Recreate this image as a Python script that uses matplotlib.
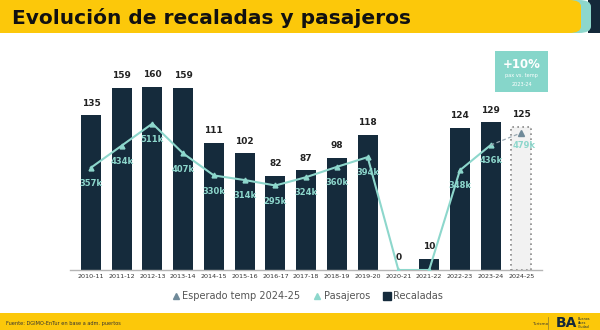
import matplotlib
matplotlib.use("Agg")
import matplotlib.pyplot as plt
from matplotlib.patches import Rectangle, FancyBboxPatch
from matplotlib.lines import Line2D

# ---------------- data ----------------
temporadas = ["2010-11", "2011-12", "2012-13", "2013-14", "2014-15", "2015-16",
              "2016-17", "2017-18", "2018-19", "2019-20", "2020-21", "2021-22",
              "2022-23", "2023-24", "2024-25"]
recaladas = [135, 159, 160, 159, 111, 102, 82, 87, 98, 118, 0, 10, 124, 129, 125]
pasajeros_k = [357, 434, 511, 407, 330, 314, 295, 324, 360, 394, 0, 0, 348, 436]
esperado_k = [436, 479]          # 2023-24 -> 2024-25 expected
esperado_idx = [13, 14]
box_title = "+10%"
box_sub = ["pax vs. temp", "2023-24"]
title = "Evolución de recaladas y pasajeros"
fuente = "Fuente: DGIMO-EnTur en base a adm. puertos"

NAVY = "#152b3c"
TEAL = "#8dd7cc"
GRAYM = "#6f8a99"
YELLOW = "#fcc80a"

W, H = 600, 330
fig = plt.figure(figsize=(W / 100, H / 100), dpi=100)
fig.patch.set_facecolor("white")

def fx(x):
    return x / W

def fy(y):
    return 1 - y / H

# ---------------- header ----------------
fig.add_artist(Rectangle((fx(588), fy(33)), fx(12), 33 / H, transform=fig.transFigure,
                         facecolor="#14293a", edgecolor="none", zorder=1))
fig.add_artist(FancyBboxPatch((fx(560), fy(33)), fx(31), 33 / H,
                              boxstyle="round,pad=0,rounding_size=0.02",
                              transform=fig.transFigure, facecolor=TEAL,
                              edgecolor="none", zorder=2))
fig.add_artist(FancyBboxPatch((fx(-20), fy(33)), fx(601), 33 / H,
                              boxstyle="round,pad=0,rounding_size=0.02",
                              transform=fig.transFigure, facecolor=YELLOW,
                              edgecolor="none", zorder=3))
fig.text(fx(12), fy(18), title, fontsize=14.5, fontweight="heavy",
         family="DejaVu Sans", color="#111111", va="center", ha="left", zorder=4)

# ---------------- footer ----------------
fig.add_artist(Rectangle((0, 0), 1, 17 / H, transform=fig.transFigure,
                         facecolor=YELLOW, edgecolor="none", zorder=1))
fig.text(fx(6), fy(324), fuente, fontsize=3.6, color="#333333", va="center", ha="left")
fig.text(fx(532), fy(324), "Turismo", fontsize=3, color="#333333", va="center", ha="left")
fig.add_artist(Line2D([fx(548), fx(548)], [fy(317), fy(329)], transform=fig.transFigure,
                      color="#8a7a30", lw=0.5))
fig.text(fx(556), fy(323), "BA", fontsize=10, fontweight="heavy", color="#14293a",
         va="center", ha="left")
fig.text(fx(578), fy(323), "Buenos\nAires\nCiudad", fontsize=2.4, color="#14293a",
         va="center", ha="left", linespacing=0.9)

# ---------------- chart ----------------
base_y = 270
top_y = 40
left_x, right_x = 70, 542
ax = fig.add_axes([fx(left_x), fy(base_y), fx(right_x - left_x), (base_y - top_y) / H])
px_per_unit = 1.145
px_per_k = 0.2865
ax.set_ylim(0, (base_y - top_y) / px_per_unit)
ax.set_xlim(-0.68, len(temporadas) - 1 + 0.67)

x = list(range(len(temporadas)))
n_real = len(temporadas) - 1
ax.bar(x[:n_real], recaladas[:n_real], width=0.65, color=NAVY, zorder=2)
ax.bar(x[n_real], recaladas[n_real], width=0.65, facecolor="#f2f2f2",
       edgecolor="#8a8a8a", linestyle=(0, (1, 2)), linewidth=1.2, zorder=2)

for i, v in enumerate(recaladas):
    ax.annotate(str(v), (i, v), xytext=(0, 5.5), textcoords="offset points",
                ha="center", va="bottom", fontsize=6.5, fontweight="bold",
                color="#222222")

for s in ["top", "left", "right"]:
    ax.spines[s].set_visible(False)
ax.spines["bottom"].set_color("#b5b5b5")
ax.spines["bottom"].set_linewidth(1)
ax.set_yticks([])
ax.set_xticks(x)
ax.set_xticklabels(temporadas, fontsize=4.6, color="#333333")
ax.tick_params(axis="x", length=0, pad=3)
ax.patch.set_alpha(0)

ax2 = ax.twinx()
ax2.set_ylim(0, (base_y - top_y) / px_per_k)
ax2.axis("off")
ax2.plot(x[:len(pasajeros_k)], pasajeros_k, color=TEAL, lw=1.5, marker="^",
         markersize=3.5, zorder=3)
ax2.plot(esperado_idx, esperado_k, color="#9aa9b2", lw=0.9, linestyle=(0, (3, 2)),
         zorder=3)
ax2.plot(esperado_idx[1:], esperado_k[1:], linestyle="none", marker="^",
         markersize=4.5, color=GRAYM, zorder=4)

for i, v in enumerate(pasajeros_k):
    if v > 0:
        ax2.annotate(f"{v}k", (i, v), xytext=(0, -8), textcoords="offset points",
                     ha="center", va="top", fontsize=6, fontweight="bold",
                     color=TEAL, zorder=5)
ax2.annotate(f"{esperado_k[1]}k", (esperado_idx[1], esperado_k[1]), xytext=(2, -6),
             textcoords="offset points", ha="center", va="top", fontsize=6,
             fontweight="bold", color=TEAL, zorder=5)

# ---------------- annotation box ----------------
fig.add_artist(Rectangle((fx(495), fy(92)), fx(53), 41 / H, transform=fig.transFigure,
                         facecolor="#86d6ca", edgecolor="none", zorder=5))
fig.text(fx(521.5), fy(64), box_title, fontsize=8.5, fontweight="bold", color="white",
         ha="center", va="center", zorder=6)
fig.text(fx(521.5), fy(75), box_sub[0], fontsize=3.6, color="white",
         ha="center", va="center", zorder=6)
fig.text(fx(521.5), fy(84), box_sub[1], fontsize=3.6, color="white",
         ha="center", va="center", zorder=6)

# ---------------- legend ----------------
handles = [
    Line2D([], [], linestyle="none", marker="^", color=GRAYM, markersize=4.5),
    Line2D([], [], linestyle="none", marker="^", color=TEAL, markersize=4.5),
    Line2D([], [], linestyle="none", marker="s", color=NAVY, markersize=5.5),
]
labels = ["Esperado temp 2024-25", "Pasajeros", "Recaladas"]
fig.legend(handles, labels, loc="center", bbox_to_anchor=(fx(307), fy(296)),
           ncol=3, frameon=False, fontsize=7, labelcolor="#555555",
           handletextpad=0.2, columnspacing=1.2, handlelength=1.0)

fig.savefig("out.png", dpi=100, facecolor=fig.get_facecolor())
